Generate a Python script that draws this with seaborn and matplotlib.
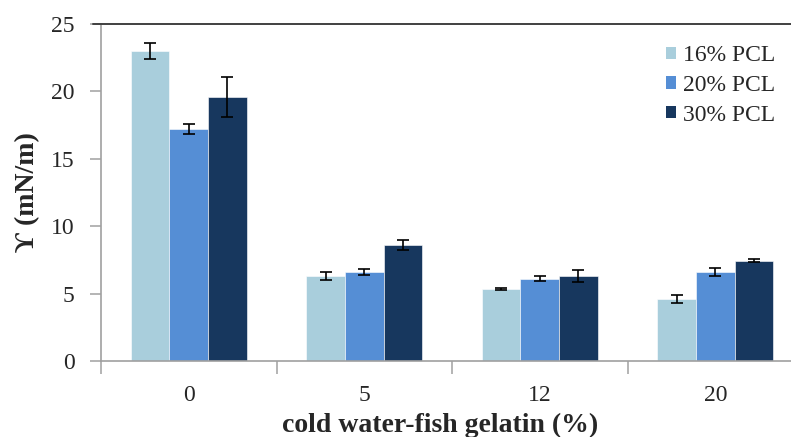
import numpy as np
import pandas as pd
import matplotlib
matplotlib.use("Agg")
import matplotlib.pyplot as plt
from matplotlib.patches import Patch
from matplotlib.lines import Line2D
from matplotlib.ticker import FixedLocator
import seaborn as sns

# Gelatin content categories and PCL concentration series
gelatin = ["0", "5", "12", "20"]
series = ["16% PCL", "20% PCL", "30% PCL"]

# Surface tension values (mN/m) and their standard deviations
pcl16 = [23.0, 6.3, 5.35, 4.6]
pcl20 = [17.2, 6.6, 6.1, 6.6]
pcl30 = [19.6, 8.6, 6.3, 7.45]
err16 = [0.58, 0.3, 0.1, 0.3]
err20 = [0.38, 0.25, 0.2, 0.3]
err30 = [1.5, 0.4, 0.43, 0.13]

colors = ["#A9CEDC", "#558ED5", "#17375E"]

df = pd.DataFrame({
    "gelatin": gelatin * 3,
    "pcl": [s for s in series for _ in gelatin],
    "gamma": pcl16 + pcl20 + pcl30,
    "err": err16 + err20 + err30,
})

sns.set_theme(style="white")
plt.rcParams["font.family"] = ["Liberation Serif", "DejaVu Serif"]

fig = plt.figure(figsize=(7.91, 4.37), dpi=100)
ax = fig.add_axes([101 / 791, 76 / 437, 702 / 791, 337 / 437])

sns.barplot(data=df, x="gelatin", y="gamma", hue="pcl", order=gelatin,
            hue_order=series, palette=colors, width=0.66, errorbar=None,
            saturation=1, ax=ax, legend=False, edgecolor="white", linewidth=0.4)

# error bars centred on each drawn bar
for container, s in zip(ax.containers, series):
    sub = df[df["pcl"] == s].set_index("gelatin").loc[gelatin]
    xs = [p.get_x() + p.get_width() / 2 for p in container.patches]
    ax.errorbar(xs, sub["gamma"].values, yerr=sub["err"].values, fmt="none",
                ecolor="black", elinewidth=1.2, capsize=4.5, capthick=1.2, zorder=5)

ax.set_xlim(-0.5, 3.5)
ax.set_ylim(0, 25)
ax.set_yticks([0, 5, 10, 15, 20, 25])

for side in ["left", "bottom"]:
    ax.spines[side].set_color("#A0A0A0")
    ax.spines[side].set_linewidth(1.2)
ax.spines["top"].set_visible(False)
ax.spines["right"].set_visible(False)

# dark frame line along the top, reaching over the 25 tick
ax.add_line(Line2D([-8 / 702, 1.0], [1.0, 1.0], transform=ax.transAxes,
                   color="#404040", linewidth=1.4, clip_on=False, zorder=6))

ax.tick_params(axis="y", which="major", direction="out", length=8, width=1.1,
               color="#A0A0A0", labelsize=17, pad=11, left=True)
ax.tick_params(axis="x", which="major", length=0, labelsize=17, pad=17)
ax.xaxis.set_minor_locator(FixedLocator([-0.5, 0.5, 1.5, 2.5]))
ax.tick_params(axis="x", which="minor", direction="out", length=9, width=1.1,
               color="#A0A0A0", bottom=True)

ax.set_xlabel("cold water-fish gelatin (%)", fontsize=20, fontweight="bold")
ax.xaxis.set_label_coords(0.483, -0.155)
ax.set_ylabel("ϒ (mN/m)", fontsize=20, fontweight="bold")
ax.yaxis.set_label_coords(-0.087, 0.5)

handles = [Patch(facecolor=c, edgecolor="none") for c in colors]
ax.legend(handles, series, loc="upper left", bbox_to_anchor=(0.805, 0.937),
          frameon=False, fontsize=17, handlelength=0.42, handleheight=0.42,
          handletextpad=0.3, labelspacing=0.37, borderpad=0, borderaxespad=0)

fig.savefig("out.png", dpi=100)
